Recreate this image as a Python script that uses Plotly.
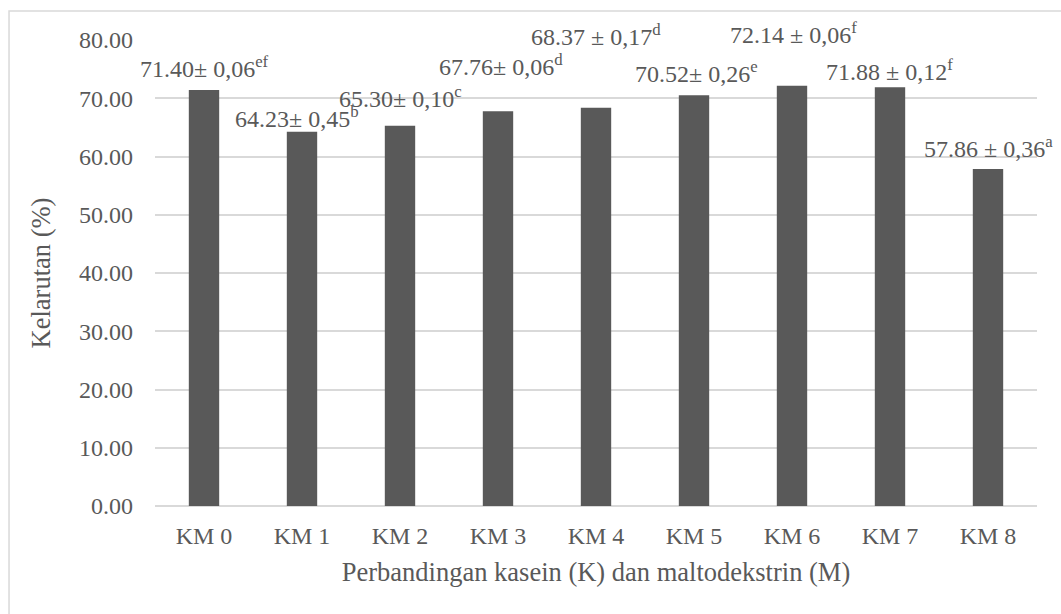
import plotly.graph_objects as go

categories = ["KM 0", "KM 1", "KM 2", "KM 3", "KM 4", "KM 5", "KM 6", "KM 7", "KM 8"]
values = [71.40, 64.23, 65.30, 67.76, 68.37, 70.52, 72.14, 71.88, 57.86]
label_texts = [
    "71.40± 0,06<sup>ef</sup>",
    "64.23± 0,45<sup>b</sup>",
    "65.30± 0,10<sup>c</sup>",
    "67.76± 0,06<sup>d</sup>",
    "68.37 ± 0,17<sup>d</sup>",
    "70.52± 0,26<sup>e</sup>",
    "72.14 ± 0,06<sup>f</sup>",
    "71.88 ± 0,12<sup>f</sup>",
    "57.86 ± 0,36<sup>a</sup>",
]
# pixel offsets of manually placed data labels (above bar top)
label_yshift = [23, 15, 29, 46, 73, 23, 53, 17, 22]
label_xshift = [0, -5, 0, 3, 0, 2, 1, -1, 0]

FONT = "Liberation Serif"
GREY = "#595959"
GRID = "#d9d9d9"
TICK_SIZE = 24
TITLE_SIZE = 26.5

fig = go.Figure()
fig.add_trace(go.Bar(x=categories, y=values, marker=dict(color=GREY, line=dict(width=0))))

for c, v, t, ys, xs in zip(categories, values, label_texts, label_yshift, label_xshift):
    fig.add_annotation(x=c, y=v, text=t, showarrow=False, yanchor="middle",
                       yshift=ys, xshift=xs,
                       font=dict(family=FONT, size=TICK_SIZE, color=GREY))

fig.add_shape(type="rect", xref="paper", yref="paper",
              x0=-0.1655, x1=1.2, y0=-0.5, y1=1.0622,
              line=dict(color=GRID, width=1.5), fillcolor="rgba(0,0,0,0)", layer="below")

fig.update_layout(
    width=1061, height=614,
    margin=dict(l=155, r=24, t=40, b=108, autoexpand=False),
    paper_bgcolor="white", plot_bgcolor="white",
    showlegend=False,
    bargap=0.69,
    font=dict(family=FONT, size=TICK_SIZE, color=GREY),
    xaxis=dict(
        automargin=False,
        range=[-0.5, 8.5],
        showgrid=False, showline=False, zeroline=False,
        ticks="", ticklabelstandoff=13,
        tickfont=dict(family=FONT, size=TICK_SIZE, color=GREY),
        title=dict(text="Perbandingan kasein (K) dan maltodekstrin (M)",
                   font=dict(family=FONT, size=TITLE_SIZE, color=GREY), standoff=14),
    ),
    yaxis=dict(
        automargin=False,
        range=[0, 80], dtick=10, tickformat=".2f",
        showgrid=True, gridcolor=GRID, gridwidth=1.5,
        zeroline=True, zerolinecolor=GRID, zerolinewidth=1.5,
        showline=False, ticks="", ticklabelstandoff=21,
        tickfont=dict(family=FONT, size=TICK_SIZE, color=GREY),
        title=dict(text="Kelarutan (%)", font=dict(family=FONT, size=TITLE_SIZE, color=GREY), standoff=20),
    ),
)

fig.write_html("out.html", config={"displayModeBar": False},
               post_script="document.body.style.margin='0';document.body.style.overflow='hidden';")
